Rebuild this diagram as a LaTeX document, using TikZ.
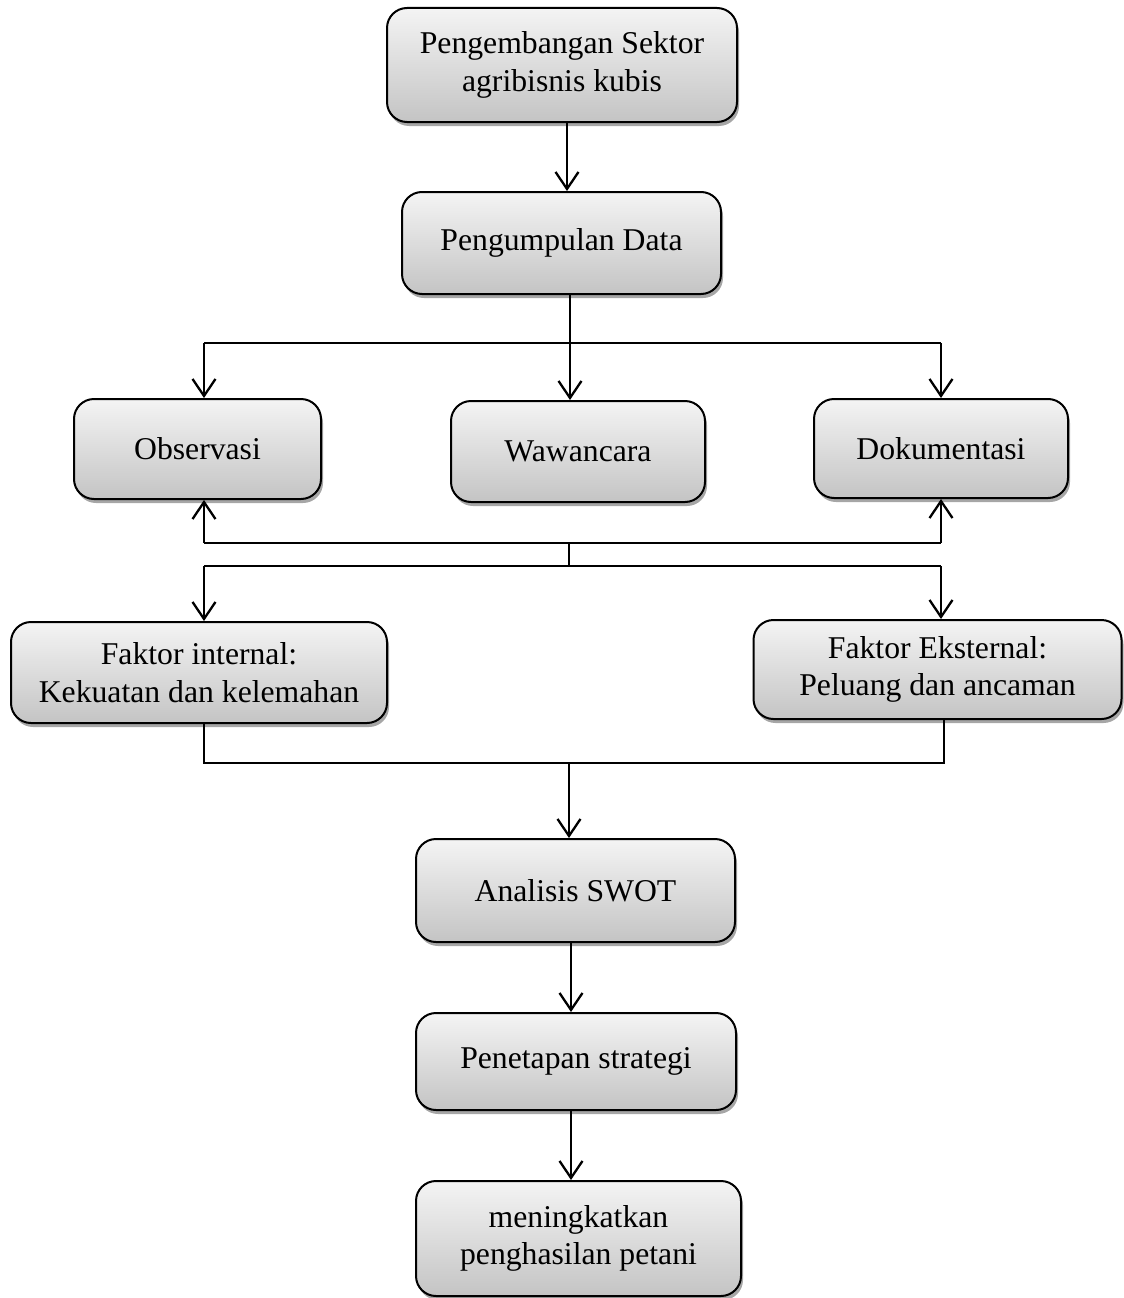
\documentclass[tikz,border=0pt]{standalone}
\usepackage{fontspec}
\setmainfont{Liberation Serif}
\usetikzlibrary{arrows.meta,shadows}
\definecolor{boxtop}{RGB}{244,244,244}
\definecolor{boxbot}{RGB}{196,196,196}
\tikzset{
  flowbox/.style={draw=black, line width=2pt, rounded corners=20pt,
    top color=boxtop, bottom color=boxbot, align=center,
    font=\fontsize{31.7}{37.5}\selectfont, inner sep=0pt,
    drop shadow={shadow xshift=2pt, shadow yshift=-4pt, opacity=0.35, fill=black}},
  link/.style={line width=2pt, draw=black},
  arr/.style={link, -{Straight Barb[length=17pt,width=23pt,line width=2.3pt]}}
}
\begin{document}
\begin{tikzpicture}[x=1pt,y=-1pt]
\useasboundingbox (0,0) rectangle (1124,1298);
\node[flowbox, minimum width=350pt, minimum height=114pt] (peng) at (562,65) {Pengembangan Sektor\\agribisnis kubis};
\node[flowbox, minimum width=319pt, minimum height=102pt] (data) at (561.5,243) {Pengumpulan Data};
\node[flowbox, minimum width=247pt, minimum height=100pt] (obs) at (197.5,449) {Observasi};
\node[flowbox, minimum width=254pt, minimum height=101pt] (waw) at (578,451.5) {Wawancara};
\node[flowbox, minimum width=254pt, minimum height=99pt] (dok) at (941,448.5) {Dokumentasi};
\node[flowbox, minimum width=376pt, minimum height=101pt] (fin) at (199,672.5) {Faktor internal:\\Kekuatan dan kelemahan};
\node[flowbox, minimum width=368pt, minimum height=99pt] (fex) at (937.5,669.5) {Faktor Eksternal:\\Peluang dan ancaman};
\node[flowbox, minimum width=319pt, minimum height=103pt] (swot) at (575.5,890.5) {Analisis SWOT};
\node[flowbox, minimum width=320pt, minimum height=97pt] (pen) at (576,1061.5) {Penetapan strategi};
\node[flowbox, minimum width=325pt, minimum height=115pt] (men) at (578.5,1238.5) {meningkatkan\\penghasilan petani};

% top arrow
\draw[arr] ([xshift=5pt]peng.south) -- ([xshift=5pt]peng.south |- data.north);

% distribution to data collection methods
\coordinate (tL) at (204,343);
\coordinate (tM) at (570,343);
\coordinate (tR) at (941,343);
\draw[link] (data.south -| tM) -- (tM);
\draw[link] (tL) -- (tR);
\draw[arr] (tL) -- (tL |- obs.north);
\draw[arr] (tM) -- (tM |- waw.north);
\draw[arr] (tR) -- (tR |- dok.north);

% back arrows
\coordinate (bL) at (204,543);
\coordinate (bM) at (569,543);
\coordinate (bR) at (941,543);
\draw[link] (bL) -- (bR);
\draw[arr] (bL) -- (bL |- obs.south);
\draw[arr] (bR) -- (bR |- dok.south);

\coordinate (cL) at (204,566);
\coordinate (cM) at (569,566);
\coordinate (cR) at (941,566);
\draw[link] (bM) -- (cM);
\draw[link] (cL) -- (cR);
\draw[arr] (cL) -- (cL |- fin.north);
\draw[arr] (cR) -- (cR |- fex.north);

% merge to SWOT
\coordinate (dL) at (204,763);
\coordinate (dM) at (569,763);
\coordinate (dR) at (944,763);
\draw[link] (fin.south -| dL) -- (dL) -- (dR) -- (fex.south -| dR);
\draw[arr] (dM) -- (dM |- swot.north);

\draw[arr] ([xshift=-4.5pt]swot.south) -- ([xshift=-4.5pt]swot.south |- pen.north);
\draw[arr] ([xshift=-5pt]pen.south) -- ([xshift=-5pt]pen.south |- men.north);
\end{tikzpicture}
\end{document}
